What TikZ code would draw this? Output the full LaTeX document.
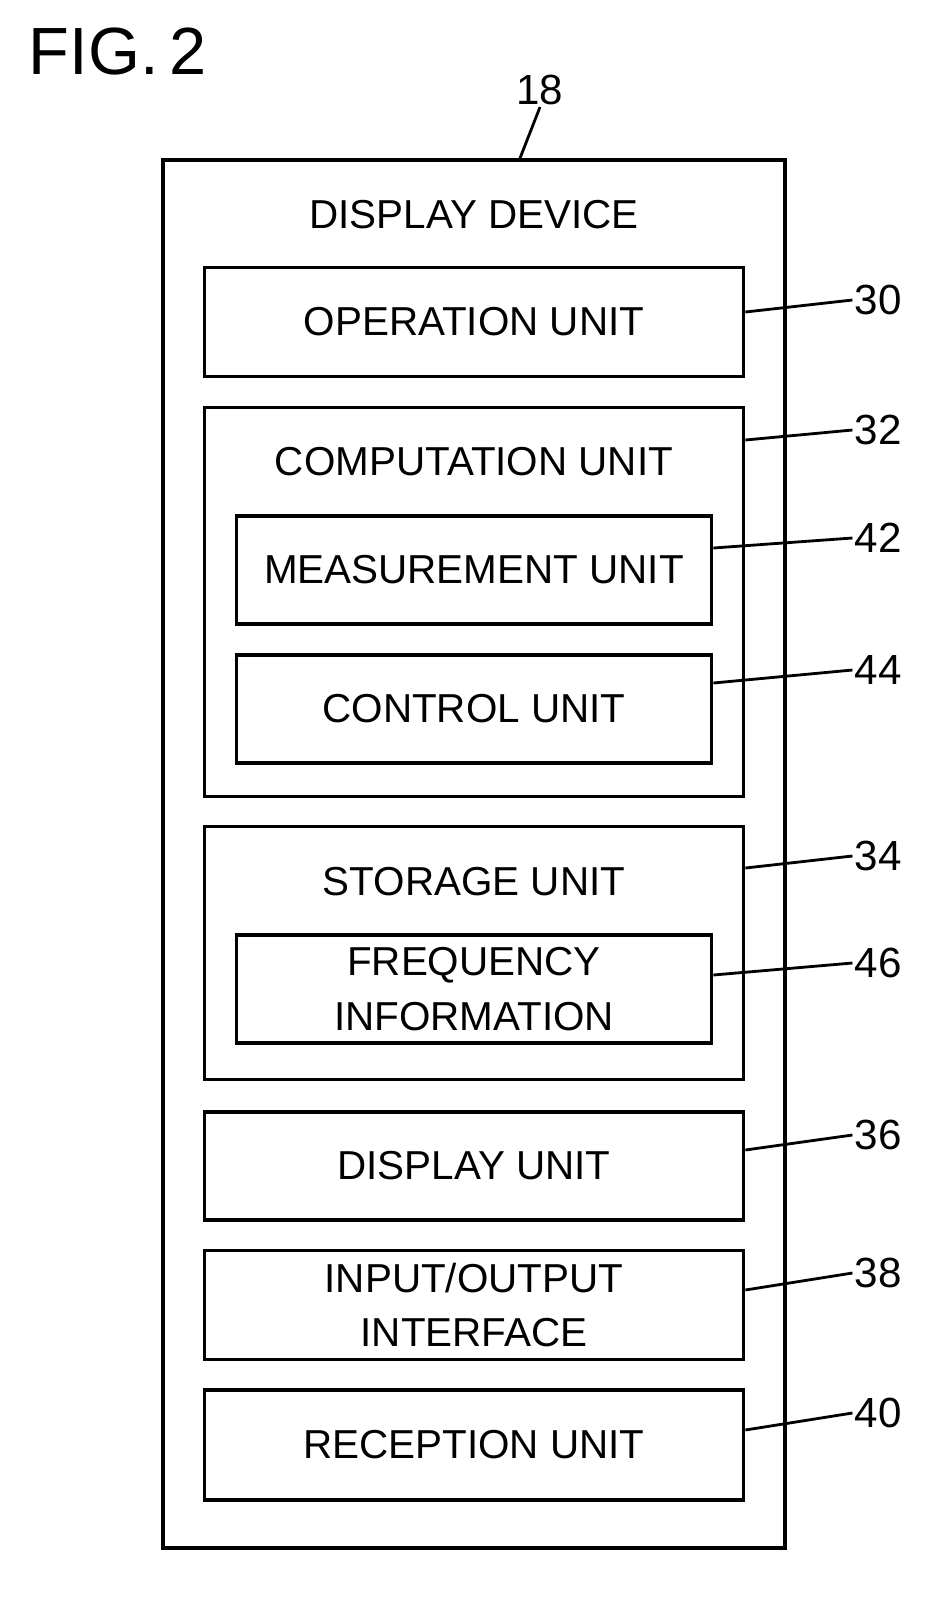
\documentclass[tikz,border=0pt]{standalone}
\usepackage{fontspec}
\setmainfont{Liberation Sans}
\usetikzlibrary{positioning}
\tikzset{
  box/.style={draw,line width=2.2pt,inner sep=0pt,align=center,font=\fontsize{23}{31}\selectfont},
  ref/.style={inner sep=1pt,font=\fontsize{24}{30}\selectfont},
  lead/.style={line width=1.6pt},
}
\begin{document}
\begin{tikzpicture}[x=0.02cm,y=-0.02cm]
\useasboundingbox (0,0) rectangle (951,1617);
\node[font=\fontsize{38}{48}\selectfont] (fig) at (118,52) {FIG.\,2};
% outer device
\node[box,minimum width=12.44cm,minimum height=27.76cm] (b18) at (474,854) {};
\node[box,draw=none] (t18) at (474,215) {DISPLAY DEVICE};
\node[ref] (l18) at (540,90) {18};
\draw[lead] (b18.north -| 520,0) -- (l18.south);
% units
\node[box,minimum width=10.78cm,minimum height=2.18cm] (b30) at (474,322) {OPERATION UNIT};
\node[box,minimum width=10.78cm,minimum height=7.78cm] (b32) at (474,602) {};
\node[box,draw=none] (t32) at (474,462) {COMPUTATION UNIT};
\node[box,minimum width=9.5cm,minimum height=2.16cm] (b42) at (474,570) {MEASUREMENT UNIT};
\node[box,minimum width=9.5cm,minimum height=2.16cm] (b44) at (474,709) {CONTROL UNIT};
\node[box,minimum width=10.78cm,minimum height=5.06cm] (b34) at (474,953) {};
\node[box,draw=none] (t34) at (474,882) {STORAGE UNIT};
\node[box,minimum width=9.5cm,minimum height=2.16cm] (b46) at (474,989) {FREQUENCY\\INFORMATION};
\node[box,minimum width=10.78cm,minimum height=2.16cm] (b36) at (474,1166) {DISPLAY UNIT};
\node[box,minimum width=10.78cm,minimum height=2.18cm] (b38) at (474,1305) {INPUT/OUTPUT\\INTERFACE};
\node[box,minimum width=10.78cm,minimum height=2.2cm] (b40) at (474,1445) {RECEPTION UNIT};
% reference numerals
\foreach \n/\y/\ly in {30/312/300,32/440/430,42/548/538,44/683/670,34/868/856,46/975/963,36/1150/1135,38/1290/1273,40/1430/1413}{
  \node[ref] (l\n) at (878,\ly) {\n};
  \draw[lead] (b\n.east |- 0,\y) -- (l\n.west);
}
\end{tikzpicture}
\end{document}
